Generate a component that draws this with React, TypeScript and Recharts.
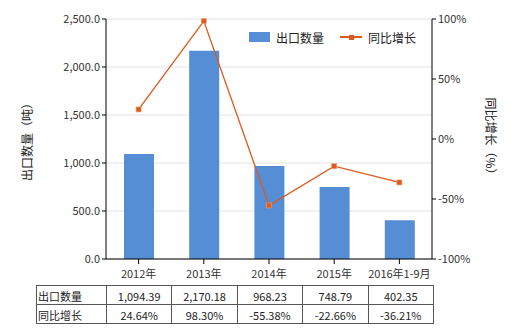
import React from "react";
import {
  ComposedChart,
  Bar,
  Line,
  XAxis,
  YAxis,
  CartesianGrid,
} from "recharts";

const categories = ["2012年", "2013年", "2014年", "2015年", "2016年1-9月"];
const exportQty = [1094.39, 2170.18, 968.23, 748.79, 402.35];
const yoyGrowth = [24.64, 98.3, -55.38, -22.66, -36.21];
const leftTicks = [0, 500, 1000, 1500, 2000, 2500];
const rightTicks = [-100, -50, 0, 50, 100];

const BAR_COLOR = "#558ED5";
const LINE_COLOR = "#DB5A1E";
const FONT = "'Noto Sans CJK SC', 'Noto Sans', sans-serif";

const chartData = categories.map((name, i) => ({
  name,
  qty: exportQty[i],
  yoy: yoyGrowth[i],
}));

const fmtQty = (v: number) =>
  v.toLocaleString("en-US", { minimumFractionDigits: 2, maximumFractionDigits: 2 });
const fmtTick = (v: number) =>
  v.toLocaleString("en-US", { minimumFractionDigits: 1, maximumFractionDigits: 1 });

const SquareDot = (props: any) => {
  const { cx, cy, index } = props;
  if (cx == null || cy == null) return null;
  return (
    <rect
      key={`dot-${index}`}
      x={cx - 2.5}
      y={cy - 2.5}
      width={5}
      height={5}
      fill={LINE_COLOR}
      stroke="#F0A070"
      strokeWidth={0.6}
    />
  );
};

const tickStyle = { fill: "#333", fontSize: 11, fontFamily: FONT };

const cell: React.CSSProperties = {
  border: "1px solid #555",
  height: 17,
  padding: "1px 0 0 0",
  textAlign: "center",
  fontSize: 11,
  color: "#222",
};

const App: React.FC = () => {
  return (
    <div
      style={{
        position: "absolute",
        left: 0,
        top: 0,
        width: 520,
        height: 330,
        background: "#fff",
        fontFamily: FONT,
      }}
    >
      <ComposedChart
        width={520}
        height={330}
        data={chartData}
        margin={{ top: 19, right: 0, bottom: 41, left: 0 }}
      >
        <CartesianGrid
          yAxisId="left"
          vertical={false}
          stroke="#e2e2e2"
        />
        <XAxis
          dataKey="name"
          interval={0}
          height={30}
          tick={tickStyle}
          tickSize={5}
          tickMargin={6}
          axisLine={{ stroke: "#000" }}
          tickLine={{ stroke: "#000" }}
        />
        <YAxis
          yAxisId="left"
          width={106}
          domain={[0, 2500]}
          ticks={leftTicks}
          tickFormatter={fmtTick}
          tick={tickStyle}
          tickSize={4}
          tickMargin={2}
          axisLine={{ stroke: "#000" }}
          tickLine={{ stroke: "#000" }}
          label={{
            value: "出口数量（吨）",
            angle: -90,
            position: "insideLeft",
            offset: 28,
            style: { textAnchor: "middle", fontSize: 12, fill: "#222", fontFamily: FONT },
          }}
        />
        <YAxis
          yAxisId="right"
          orientation="right"
          width={88}
          domain={[-100, 100]}
          ticks={rightTicks}
          tickFormatter={(v: number) => `${v}%`}
          tick={tickStyle}
          tickSize={4}
          tickMargin={2}
          axisLine={{ stroke: "#000" }}
          tickLine={{ stroke: "#000" }}
          label={{
            value: "同比增长（%）",
            angle: 90,
            position: "insideRight",
            offset: 30,
            style: { textAnchor: "middle", fontSize: 12, fill: "#222", fontFamily: FONT },
          }}
        />
        <Bar
          yAxisId="left"
          dataKey="qty"
          fill={BAR_COLOR}
          barSize={30}
          isAnimationActive={false}
        />
        <Line
          yAxisId="right"
          dataKey="yoy"
          stroke={LINE_COLOR}
          strokeWidth={1.3}
          dot={SquareDot}
          activeDot={false}
          isAnimationActive={false}
        />
      </ComposedChart>

      {/* legend */}
      <div
        style={{
          position: "absolute",
          left: 249,
          top: 29,
          display: "flex",
          alignItems: "center",
          fontSize: 12,
          color: "#222",
          height: 16,
        }}
      >
        <span style={{ display: "inline-block", width: 21, height: 10, background: BAR_COLOR }} />
        <span style={{ marginLeft: 6 }}>出口数量</span>
        <span style={{ position: "relative", display: "inline-block", width: 22, height: 10, marginLeft: 16 }}>
          <span style={{ position: "absolute", left: 0, top: 4, width: 22, height: 2, background: LINE_COLOR }} />
          <span style={{ position: "absolute", left: 8.5, top: 2.5, width: 5, height: 5, background: LINE_COLOR }} />
        </span>
        <span style={{ marginLeft: 6 }}>同比增长</span>
      </div>

      {/* data table */}
      <table
        style={{
          position: "absolute",
          left: 36,
          top: 285,
          borderCollapse: "collapse",
          tableLayout: "fixed",
          width: 397,
          fontFamily: FONT,
        }}
      >
        <colgroup>
          <col style={{ width: 70 }} />
          {categories.map((c) => (
            <col key={c} style={{ width: 65.4 }} />
          ))}
        </colgroup>
        <tbody>
          <tr>
            <td style={{ ...cell, textAlign: "left", paddingLeft: 1 }}>出口数量</td>
            {exportQty.map((v, i) => (
              <td key={i} style={cell}>{fmtQty(v)}</td>
            ))}
          </tr>
          <tr>
            <td style={{ ...cell, textAlign: "left", paddingLeft: 1 }}>同比增长</td>
            {yoyGrowth.map((v, i) => (
              <td key={i} style={cell}>{v.toFixed(2)}%</td>
            ))}
          </tr>
        </tbody>
      </table>
    </div>
  );
};

export default App;
